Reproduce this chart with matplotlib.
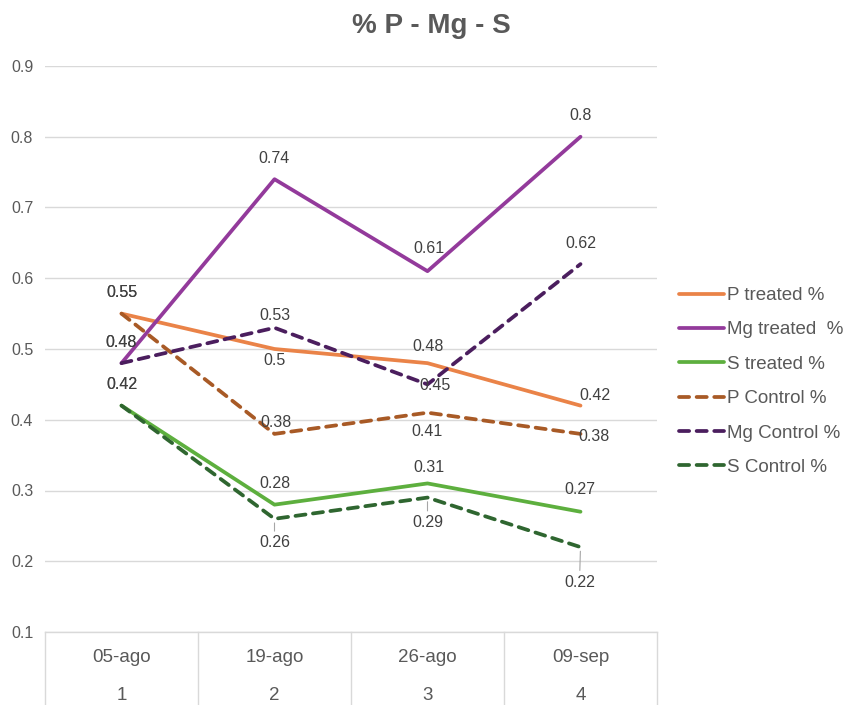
import matplotlib.pyplot as plt
from matplotlib.lines import Line2D
import matplotlib.transforms as mtransforms

plt.rcParams['font.family'] = ['Liberation Sans', 'DejaVu Sans']

# data
dates = ['05-ago', '19-ago', '26-ago', '09-sep']
weeks = ['1', '2', '3', '4']
series_names = ['P treated %', 'Mg treated  %', 'S treated %',
                'P Control %', 'Mg Control %', 'S Control %']
p_treated = [0.55, 0.50, 0.48, 0.42]
mg_treated = [0.48, 0.74, 0.61, 0.80]
s_treated = [0.42, 0.28, 0.31, 0.27]
p_control = [0.55, 0.38, 0.41, 0.38]
mg_control = [0.48, 0.53, 0.45, 0.62]
s_control = [0.42, 0.26, 0.29, 0.22]
y_ticks = [0.1, 0.2, 0.3, 0.4, 0.5, 0.6, 0.7, 0.8, 0.9]

all_series = [p_treated, mg_treated, s_treated, p_control, mg_control, s_control]
colors = ['#EA8348', '#933A9B', '#5DAF3E', '#A85A26', '#4B1E5E', '#2F6630']
dashed = [False, False, False, True, True, True]

# label offsets in pixels (dx, dy), and whether a leader line is drawn
offsets = [
    [(0, 21), (0, -12), (1, 17), (14, 10)],
    [(0, 21), (0, 21), (1, 23), (0, 21)],
    [(0, 21), (0, 21), (1, 16), (-1, 22)],
    [(0, 21), (2, 11), (0, -19), (14, -3)],
    [(0, 21), (0, 12), (8, -1), (0, 21)],
    [(0, 21), (0, -24), (0, -25), (-1, -35)],
]
leaders = [[False] * 4] * 5 + [[False, True, True, True]]

fig = plt.figure(figsize=(8.62, 7.05), dpi=100)
ax = fig.add_axes([45 / 862, 73 / 705, 612 / 862, 566 / 705])

x = list(range(len(dates)))
for vals, name, col, dsh in zip(all_series, series_names, colors, dashed):
    if dsh:
        ax.plot(x, vals, color=col, lw=2.7, label=name, dashes=(2.7, 2.0),
                dash_capstyle='round', zorder=3)
    else:
        ax.plot(x, vals, color=col, lw=2.7, label=name, solid_capstyle='round', zorder=3)

for vals, offs, leads in zip(all_series, offsets, leaders):
    for i, v in enumerate(vals):
        dx, dy = offs[i]
        arrow = None
        if leads[i]:
            arrow = dict(arrowstyle='-', color='#A6A6A6', lw=0.8, shrinkA=1, shrinkB=3)
        ax.annotate(f'{v:g}', (i, v), xytext=(dx, dy), textcoords='offset pixels',
                    ha='center', va='center', fontsize=11.5, color='#404040',
                    arrowprops=arrow, zorder=4)

ax.set_xlim(-0.5, 3.5)
ax.set_ylim(0.1, 0.9)
ax.set_yticks(y_ticks)
ax.set_yticklabels([f'{t:g}' for t in y_ticks])
ax.tick_params(axis='y', length=0, pad=8.5, labelsize=11.5, labelcolor='#595959')
ax.set_xticks([])
for s in ax.spines.values():
    s.set_visible(False)
ax.grid(axis='y', color='#D9D9D9', lw=1, zorder=0)
ax.set_axisbelow(True)

# category table below the plot
trans = mtransforms.blended_transform_factory(ax.transData, ax.transAxes)
table_bottom = -75 / 566
for b in [-0.5, 0.5, 1.5, 2.5, 3.5]:
    ax.add_line(Line2D([b, b], [0, table_bottom], transform=trans, color='#D9D9D9',
                       lw=1, clip_on=False))
ax.add_line(Line2D([-0.5, 3.5], [0, 0], transform=trans, color='#D9D9D9', lw=1, clip_on=False))
for i in x:
    ax.text(i, -25 / 566, dates[i], transform=trans, ha='center', va='center',
            fontsize=13.5, color='#595959')
    ax.text(i, -63 / 566, weeks[i], transform=trans, ha='center', va='center',
            fontsize=13.5, color='#595959')

fig.text(0.5, 1 - 26 / 705, '% P - Mg - S', ha='center', va='center',
         fontsize=20, fontweight='bold', color='#595959')

leg = fig.legend(loc='upper left', bbox_to_anchor=(679 / 862, 1 - 287 / 705),
                 frameon=False, fontsize=13.5, handlelength=2.4, handletextpad=0.15,
                 labelspacing=0.92, borderpad=0, borderaxespad=0)
for t in leg.get_texts():
    t.set_color('#595959')

fig.savefig('out.png', dpi=100)
